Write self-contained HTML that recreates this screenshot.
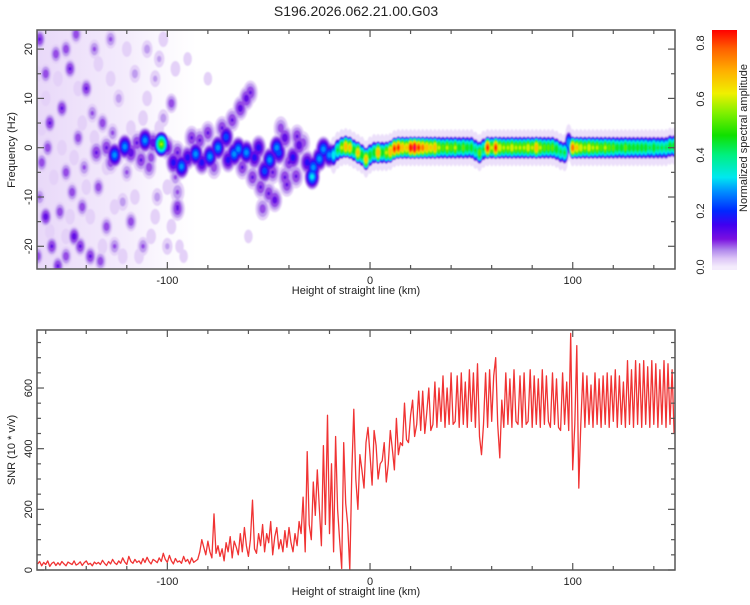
<!DOCTYPE html>
<html><head><meta charset="utf-8"><style>
body{margin:0;background:#fff;}
svg text{font-family:"Liberation Sans",sans-serif;fill:#222;}
</style></head><body>
<svg id="c" width="750" height="600" xmlns="http://www.w3.org/2000/svg">
<defs>
<clipPath id="cpTop"><rect x="37" y="30" width="638" height="239"/></clipPath>
<clipPath id="cpBot"><rect x="37" y="330" width="638" height="240"/></clipPath>
<filter id="bl" x="-5%" y="-5%" width="110%" height="110%"><feGaussianBlur stdDeviation="0.8"/></filter>
<linearGradient id="cbGrad" x1="0" y1="1" x2="0" y2="0"></linearGradient>
<linearGradient id="noiseBg" x1="0" y1="0" x2="1" y2="0">
<stop offset="0" stop-color="#e6d4f8" stop-opacity="0.9"/>
<stop offset="0.55" stop-color="#ecdefa" stop-opacity="0.6"/>
<stop offset="1" stop-color="#f4ecfc" stop-opacity="0"/>
</linearGradient>
</defs>
<text x="356" y="16" font-size="14" text-anchor="middle">S196.2026.062.21.00.G03</text>
<rect x="37" y="30" width="160" height="239" fill="url(#noiseBg)"/>
<g id="spec" clip-path="url(#cpTop)" filter="url(#bl)"></g>
<g id="snr" clip-path="url(#cpBot)"></g>
<g id="axes"></g>
</svg>
<script>
// ---- data ----
const snrStart = -164;
const snrValues = [
20,28,14,25,18,30,12,22,26,15,
24,16,28,20,14,26,22,18,30,16,
20,27,15,24,30,18,22,14,26,20,
25,18,32,22,15,28,20,35,24,18,
30,22,40,26,18,45,28,22,35,25,
30,20,38,25,42,28,20,35,30,24,
40,28,55,35,25,48,30,20,38,26,
30,22,45,28,35,20,40,25,30,35,
60,100,75,50,95,60,40,185,55,80,
45,70,30,90,60,110,40,95,75,50,
120,60,140,80,45,100,230,70,55,120,
80,150,60,120,90,160,50,110,140,70,
100,60,130,75,140,90,60,120,80,160,
120,240,60,390,150,100,290,180,330,200,
80,410,150,510,120,350,60,440,200,100,
5,420,220,150,0,320,530,300,200,380,
330,270,420,470,380,280,460,410,300,350,
360,420,290,350,460,400,330,500,380,420,
410,550,430,420,510,560,440,480,590,460,
590,450,520,600,460,480,620,470,600,490,
640,470,600,480,650,480,490,640,470,650,
480,620,470,660,490,650,470,680,440,380,
480,650,470,660,490,640,700,480,370,560,
470,650,480,630,470,660,490,480,640,470,
650,480,490,660,470,640,480,630,470,660,
480,640,490,470,650,480,630,470,460,650,
480,620,460,780,330,480,740,270,480,650,
470,640,480,610,470,650,480,630,470,640,
480,650,470,640,490,660,470,640,480,620,
470,690,480,660,470,690,480,680,470,690,
480,670,470,690,480,680,470,660,480,690,
470,680,480,660,450];

// band ridge: [km, Hz, amplitude]
const bandPoints = [
[-18,-1.5,.35],[-16,-.5,.45],[-14,0,.6],[-12,.2,.75],[-10,0,.7],[-8,-.5,.5],[-6,-1,.7],[-4,-1.5,.5],[-2,-2.3,.7],[0,-1.5,.5],
[2,-1,.5],[4,-1,.75],[6,-1,.5],[8,-1,.6],[10,-.8,.75],[12,-.2,.85],[14,0,.85],[16,0,.75],[18,0,.7],[20,0,.9],
[22,0,.95],[24,0,.85],[26,0,.8],[28,0,.75],[30,0,.7],[32,0,.75],[34,0,.6],[36,0,.55],[38,0,.6],[40,0,.55],
[42,0,.6],[44,0,.5],[46,0,.55],[48,0,.5],[50,0,.5],[52,-.5,.45],[54,-1,.55],[56,-.3,.45],[58,0,.85],[60,0,.6],
[62,0,.85],[64,0,.65],[66,0,.6],[68,0,.6],[70,0,.65],[72,0,.6],[74,0,.6],[76,0,.6],[78,0,.65],[80,0,.6],
[82,0,.75],[84,0,.6],[86,0,.55],[88,0,.55],[90,0,.55],[92,-.3,.5],[94,-.8,.45],[96,-1,.45],[98,1,.3],[100,0,.8],
[102,0,.7],[104,0,.65],[106,0,.6],[108,0,.65],[110,0,.6],[112,0,.6],[114,0,.55],[116,0,.6],[118,0,.55],[120,0,.55],
[122,0,.5],[124,0,.5],[126,0,.55],[128,0,.5],[130,0,.5],[132,0,.5],[134,0,.5],[136,0,.5],[138,0,.45],[140,0,.5],
[142,0,.45],[144,0,.45],[146,0,.45],[148,.3,.5],[150,.3,.5]];

// echo blobs: [km, Hz, amplitude]
const blobPoints = [
[-126,-1.5,.3],[-121,.2,.3],[-118,-1,.15],[-111,1.5,.3],[-107,1,.15],[-103,.7,.6],[-100,0,.15],[-97,-3,.2],[-93,-3.8,.3],[-90,-2,.2],
[-86,-1.3,.3],[-83,-3,.2],[-79,-1.8,.3],[-75,0,.3],[-71,2.2,.25],[-70,-2.5,.2],[-67,-1.3,.3],[-65,-.3,.3],[-61,-1,.3],[-57,-2,.2],
[-55,0,.2],[-52,-4.7,.25],[-49.5,-2.5,.3],[-46,0,.3],[-45,-1,.25],[-42,2,.15],[-38,-2,.2],[-35,.5,.15],[-31,-3,.2],[-28.6,-5.9,.35],
[-28,-4,.3],[-25,-2.3,.3],[-23,-.3,.3],[-20,-1.5,.3],
[-135,-1,.12],[-130,0,.12],[-128,-3,.1],[-115,1,.12],[-113,-2.5,.12],[-109,-4,.1],[-95,-1,.12],[-88,2,.12],[-80,3,.12],[-73,4,.12],
[-68,5.6,.12],[-64,8,.14],[-61,10,.14],[-59,11.2,.12],[-63,-4,.12],[-58,-6,.12],[-54,-8,.12],[-50,-9.3,.12],[-47,-10.6,.14],[-53,-12.4,.1],
[-42,-6,.12],[-41,-7.5,.12],[-36.5,-5.8,.12],[-36,2.3,.12],[-33,1,.1],[-95,-12.4,.12],[-95,-9,.08],[-48,-5,.12],[-44,4,.1],[-40,-3,.12],
[-77,-4,.1],[-84,1.5,.12]];

// noise speckles: [km, Hz, amplitude]
const noisePoints = [
[-163,22,.12],[-160,15,.1],[-158,5,.12],[-162,-3,.1],[-160,-14,.14],[-157,-20,.12],[-163,-10,.08],[-155,19,.1],[-152,8,.12],[-150,-5,.1],
[-148,16,.12],[-146,-18,.14],[-144,2,.1],[-142,-12,.1],[-140,12,.12],[-138,-22,.12],[-136,20,.08],[-134,-8,.1],[-132,5,.1],[-130,-16,.1],
[-128,22,.08],[-126,-20,.08],[-124,10,.06],[-120,-5,.08],[-118,-15,.1],[-116,15,.06],[-112,-20,.08],[-110,20,.06],[-108,-2,.1],[-105,-10,.06],
[-102,6,.06],[-98,9,.1],[-95,-12,.12],[-96,-6,.08],[-100,-20,.05],[-104,18,.05],[-154,-24,.12],[-150,-22,.1],[-145,23,.1],[-141,-4,.08],
[-137,7,.08],[-153,-13,.1],[-159,0,.1],[-164,-22,.1],[-147,-9,.1],[-133,-23,.1],[-127,3,.08],[-122,-11,.06],[-114,-3,.06],[-106,14,.05],
[-143,-20,.12],[-150,20,.1],
[-160,10,.04],[-156,-6,.04],[-152,0,.04],[-148,-14,.04],[-144,12,.04],[-140,-8,.04],[-136,2,.04],[-132,-20,.04],[-128,14,.04],[-124,-2,.04],
[-120,20,.04],[-116,-10,.04],[-112,6,.04],[-108,-18,.04],[-104,4,.04],[-100,-8,.04],[-96,16,.04],[-98,-16,.04],[-94,-20,.03],[-110,10,.04],
[-118,4,.04],[-122,-22,.04],[-130,-4,.04],[-134,17,.04],[-138,-14,.04],[-142,5,.04],[-146,-2,.04],[-154,14,.04],[-158,-17,.04],[-162,4,.04],
[-126,-12,.04],[-114,-22,.04],[-102,22,.04],[-97,0,.04],[-92,-22,.03],[-106,-14,.04],[-164,15,.04],[-150,-18,.04],[-90,18,.03],[-80,14,.03],
[-60,-18,.03]];

const xTickValues = [-100, 0, 100];
const freqTickValues = [-20, -10, 0, 10, 20];
const snrTickValues = [0, 200, 400, 600];
const cbTickValues = [0.0, 0.2, 0.4, 0.6, 0.8];

// ---- scales ----
const NS = 'http://www.w3.org/2000/svg';
const xS = km => 37 + (km + 164.3) * 2.027;
const fY = hz => 147.7 - hz * 4.93;
const sY = v => 570 - v * 0.3033;
const cbY = v => 267 - v * 280;

const stops = [[0,'#f4ecfc'],[0.03,'#dcc4f6'],[0.06,'#b088ec'],[0.1,'#7a10e0'],[0.15,'#4000f0'],[0.2,'#0028ff'],[0.27,'#0090ff'],[0.32,'#00e8f0'],[0.4,'#00f080'],[0.47,'#10e000'],[0.55,'#80f000'],[0.62,'#f0f000'],[0.7,'#ffb000'],[0.78,'#ff6000'],[0.86,'#ff0000'],[0.95,'#ff0080']];
function hex(c){return [1,3,5].map(i=>parseInt(c.substr(i,2),16));}
function cmap(v){
  for(let i=1;i<stops.length;i++){ if(v<=stops[i][0]){const a=stops[i-1],b=stops[i];const t=(v-a[0])/(b[0]-a[0]);const A=hex(a[1]),B=hex(b[1]);return 'rgb('+A.map((x,k)=>Math.round(x+(B[k]-x)*t)).join(',')+')';}}
  return stops[stops.length-1][1];
}
function mk(tag, attrs, parent){const e=document.createElementNS(NS,tag);for(const k in attrs)e.setAttribute(k,attrs[k]);parent.appendChild(e);return e;}

// ---- spectrogram ----
const spec = document.getElementById('spec');
// faint halo around the band
bandPoints.forEach(p=>{
  const h = mk('ellipse',{cx:xS(p[0]).toFixed(1),cy:fY(p[1]).toFixed(1),rx:(2.0*2.027).toFixed(2),ry:(3.8*4.93).toFixed(2),fill:'#ece0fa'},spec);
  
  
});
const levels = [0.02,0.05,0.08,0.12,0.17,0.22,0.27,0.32,0.38,0.45,0.52,0.6,0.68,0.76,0.84,0.92];
// [points, rx km, ry Hz, falloff power, name]
const groups = [[noisePoints,3.0,2.2,0.8,'noise-speckle'],[blobPoints,3.8,2.7,0.9,'echo-blob'],[bandPoints,1.7,2.3,0.55,'band-segment']];
levels.forEach(L=>{
  groups.forEach(g=>{
    g[0].forEach(p=>{
      if(p[2] < L) return;
      const s = Math.pow(1 - L / (p[2] + 0.01), g[3]);
      const e = mk('ellipse',{cx:xS(p[0]).toFixed(1),cy:fY(p[1]).toFixed(1),rx:(g[1]*2.027*s+0.8).toFixed(2),ry:(g[2]*4.93*s+0.6).toFixed(2),fill:cmap(L)},spec);
      
      
    });
  });
});

// ---- SNR line ----
const snr = document.getElementById('snr');
let d = '';
snrValues.forEach((v,i)=>{ d += (i?'L':'M') + xS(snrStart+i).toFixed(1) + ' ' + sY(v).toFixed(1); });
const ln = mk('path',{d:d,fill:'none',stroke:'#f03333','stroke-width':1.3,'stroke-linejoin':'round'},snr);



// ---- axes ----
const ax = document.getElementById('axes');
function frame(y0, y1, name){
  const r = mk('rect',{x:37,y:y0,width:638,height:y1-y0,fill:'none',stroke:'#555','stroke-width':1.5},ax);
  
  
  for(let km=-160; km<=150; km+=20){
    const x = xS(km); const len = (km%100===0)?7:4;
    mk('line',{x1:x,y1:y1,x2:x,y2:y1-len,stroke:'#555','stroke-width':1.2},ax);
    mk('line',{x1:x,y1:y0,x2:x,y2:y0+len,stroke:'#555','stroke-width':1.2},ax);
  }
  xTickValues.forEach(v=>{
    const t = mk('text',{x:xS(v),y:y1+15,'font-size':11,'text-anchor':'middle'},ax);
    t.textContent = String(v);
    
    
  });
  const at = mk('text',{x:356,y:y1+25,'font-size':11,'text-anchor':'middle'},ax);
  at.textContent = 'Height of straight line (km)';
  
  
}
frame(30, 269, 'spectrogram-frame');
frame(330, 570, 'snr-frame');

for(let hz=-20; hz<=20; hz+=5){
  const y=fY(hz); const len=(hz%10===0)?7:4;
  mk('line',{x1:37,y1:y,x2:37+len,y2:y,stroke:'#555','stroke-width':1.2},ax);
  mk('line',{x1:675,y1:y,x2:675-len,y2:y,stroke:'#555','stroke-width':1.2},ax);
}
freqTickValues.forEach(v=>{
  const y=fY(v);
  const t = mk('text',{x:0,y:0,'font-size':11,'text-anchor':'middle',transform:'translate(32,'+y+') rotate(-90)'},ax);
  t.textContent = String(v);
  
  
});
for(let v=0; v<=750; v+=50){
  const y=sY(v); const len=(v%200===0)?7:4;
  mk('line',{x1:37,y1:y,x2:37+len,y2:y,stroke:'#555','stroke-width':1.2},ax);
  mk('line',{x1:675,y1:y,x2:675-len,y2:y,stroke:'#555','stroke-width':1.2},ax);
}
snrTickValues.forEach(v=>{
  const y=sY(v);
  const t = mk('text',{x:0,y:0,'font-size':11,'text-anchor':'middle',transform:'translate(32,'+y+') rotate(-90)'},ax);
  t.textContent = String(v);
  
  
});
const yt1 = mk('text',{x:0,y:0,'font-size':11,'text-anchor':'middle',transform:'translate(15,150) rotate(-90)'},ax);
yt1.textContent='Frequency (Hz)';


const yt2 = mk('text',{x:0,y:0,'font-size':11,'text-anchor':'middle',transform:'translate(15,450) rotate(-90)'},ax);
yt2.textContent='SNR (10 * v/v)';



// ---- colorbar ----
const grad = document.getElementById('cbGrad');
stops.forEach(s=>{
  const off = Math.min(1, (s[0]*280 + 3) / (270-30));
  mk('stop',{offset:off.toFixed(3),'stop-color':s[1]},grad);
});
const cb = mk('rect',{x:712,y:30,width:25,height:240,fill:'url(#cbGrad)'},ax);


cbTickValues.forEach(v=>{
  const t = mk('text',{x:0,y:0,'font-size':11,'text-anchor':'middle',transform:'translate(704,'+cbY(v)+') rotate(-90)'},ax);
  t.textContent = v.toFixed(1);
  
  
});
const cbt = mk('text',{x:0,y:0,'font-size':11,'text-anchor':'middle',transform:'translate(747,138) rotate(-90)'},ax);
cbt.textContent='Normalized spectral amplitude';


</script>
</body></html>
